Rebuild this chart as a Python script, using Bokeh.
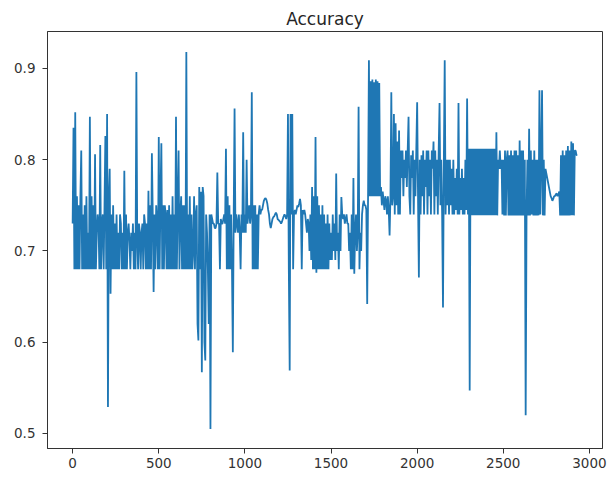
from bokeh.plotting import figure
from bokeh.models import Range1d, FixedTicker
from bokeh.embed import file_html
from bokeh.resources import INLINE

# iterations between stored samples
step = 5
accuracy = [
    # 0 - 95
    0.73, 0.835, 0.68, 0.852, 0.68, 0.76, 0.68, 0.75, 0.68, 0.76,
    0.81, 0.68, 0.74, 0.68, 0.75, 0.68, 0.76, 0.68, 0.72, 0.68,
    # 100 - 195
    0.847, 0.68, 0.76, 0.68, 0.75, 0.68, 0.806, 0.68, 0.72, 0.74,
    0.73, 0.68, 0.816, 0.68, 0.73, 0.74, 0.68, 0.75, 0.826, 0.68,
    # 200 - 295
    0.85, 0.529, 0.76, 0.79, 0.653, 0.74, 0.68, 0.75, 0.68, 0.73,
    0.68, 0.74, 0.68, 0.72, 0.68, 0.74, 0.73, 0.68, 0.72, 0.68,
    # 300 - 395
    0.788, 0.68, 0.74, 0.68, 0.72, 0.73, 0.71, 0.68, 0.72, 0.70,
    0.73, 0.68, 0.72, 0.68, 0.896, 0.71, 0.68, 0.73, 0.72, 0.68,
    # 400 - 495
    0.72, 0.73, 0.68, 0.74, 0.73, 0.68, 0.73, 0.68, 0.766, 0.68,
    0.75, 0.68, 0.807, 0.74, 0.655, 0.74, 0.68, 0.75, 0.73, 0.68,
    # 500 - 595
    0.825, 0.68, 0.76, 0.818, 0.68, 0.75, 0.68, 0.75, 0.74, 0.68,
    0.745, 0.68, 0.75, 0.68, 0.74, 0.68, 0.76, 0.68, 0.74, 0.68,
    # 600 - 695
    0.847, 0.68, 0.75, 0.81, 0.68, 0.74, 0.76, 0.68, 0.75, 0.68,
    0.75, 0.68, 0.918, 0.68, 0.74, 0.68, 0.76, 0.68, 0.74, 0.68,
    # 700 - 795
    0.70, 0.76, 0.68, 0.74, 0.75, 0.62, 0.602, 0.77, 0.68, 0.765,
    0.567, 0.77, 0.76, 0.60, 0.58, 0.74, 0.72, 0.68, 0.62, 0.74,
    # 800 - 895
    0.505, 0.74, 0.735, 0.73, 0.73, 0.725, 0.725, 0.73, 0.786, 0.73,
    0.73, 0.68, 0.735, 0.73, 0.73, 0.735, 0.74, 0.73, 0.812, 0.68,
    # 900 - 995
    0.76, 0.68, 0.75, 0.68, 0.74, 0.68, 0.589, 0.74, 0.856, 0.72,
    0.74, 0.73, 0.72, 0.74, 0.72, 0.68, 0.74, 0.72, 0.83, 0.72,
    # 1000 - 1095
    0.74, 0.72, 0.80, 0.73, 0.74, 0.75, 0.73, 0.74, 0.874, 0.68,
    0.75, 0.68, 0.75, 0.68, 0.74, 0.68, 0.74, 0.75, 0.74, 0.745,
    # 1100 - 1195
    0.745, 0.75, 0.755, 0.757, 0.758, 0.756, 0.752, 0.745, 0.74, 0.73,
    0.725, 0.73, 0.735, 0.737, 0.738, 0.74, 0.742, 0.74, 0.735, 0.734,
    # 1200 - 1295
    0.733, 0.732, 0.73, 0.732, 0.735, 0.738, 0.74, 0.738, 0.735, 0.74,
    0.85, 0.68, 0.569, 0.85, 0.74, 0.85, 0.68, 0.74, 0.745, 0.74,
    # 1300 - 1395
    0.745, 0.75, 0.748, 0.752, 0.757, 0.75, 0.68, 0.745, 0.74, 0.745,
    0.74, 0.73, 0.72, 0.735, 0.73, 0.70, 0.74, 0.69, 0.77, 0.68,
    # 1400 - 1495
    0.76, 0.68, 0.825, 0.676, 0.76, 0.68, 0.75, 0.68, 0.74, 0.68,
    0.75, 0.68, 0.74, 0.68, 0.73, 0.68, 0.74, 0.68, 0.73, 0.69,
    # 1500 - 1595
    0.72, 0.69, 0.74, 0.70, 0.73, 0.69, 0.785, 0.70, 0.72, 0.68,
    0.74, 0.70, 0.759, 0.74, 0.735, 0.74, 0.73, 0.735, 0.74, 0.73,
    # 1600 - 1695
    0.73, 0.70, 0.72, 0.68, 0.74, 0.68, 0.78, 0.675, 0.72, 0.74,
    0.70, 0.72, 0.858, 0.68, 0.72, 0.70, 0.74, 0.75, 0.755, 0.75,
    # 1700 - 1795
    0.75, 0.745, 0.642, 0.76, 0.909, 0.76, 0.886, 0.76, 0.888, 0.76,
    0.885, 0.76, 0.888, 0.76, 0.886, 0.76, 0.884, 0.76, 0.77, 0.75,
    # 1800 - 1895
    0.765, 0.755, 0.745, 0.76, 0.755, 0.74, 0.76, 0.745, 0.717, 0.76,
    0.874, 0.75, 0.76, 0.85, 0.74, 0.84, 0.75, 0.82, 0.74, 0.832,
    # 1900 - 1995
    0.74, 0.81, 0.78, 0.81, 0.76, 0.80, 0.78, 0.81, 0.77, 0.81,
    0.847, 0.76, 0.74, 0.805, 0.78, 0.81, 0.74, 0.80, 0.76, 0.81,
    # 2000 - 2095
    0.863, 0.76, 0.671, 0.80, 0.74, 0.805, 0.76, 0.81, 0.74, 0.80,
    0.77, 0.81, 0.74, 0.81, 0.76, 0.80, 0.74, 0.81, 0.79, 0.82,
    # 2100 - 2195
    0.74, 0.81, 0.76, 0.80, 0.74, 0.81, 0.862, 0.75, 0.80, 0.74,
    0.638, 0.80, 0.909, 0.74, 0.80, 0.75, 0.80, 0.74, 0.80, 0.75,
    # 2200 - 2295
    0.79, 0.74, 0.80, 0.74, 0.78, 0.745, 0.79, 0.74, 0.862, 0.74,
    0.78, 0.745, 0.79, 0.74, 0.78, 0.74, 0.80, 0.745, 0.867, 0.74,
    # 2300 - 2395
    0.812, 0.547, 0.812, 0.739, 0.812, 0.739, 0.812, 0.739, 0.812, 0.739,
    0.812, 0.739, 0.812, 0.739, 0.812, 0.739, 0.812, 0.739, 0.812, 0.739,
    # 2400 - 2495
    0.812, 0.739, 0.812, 0.739, 0.812, 0.739, 0.812, 0.739, 0.812, 0.739,
    0.812, 0.739, 0.83, 0.739, 0.80, 0.79, 0.81, 0.79, 0.80, 0.74,
    # 2500 - 2595
    0.80, 0.739, 0.81, 0.739, 0.80, 0.81, 0.739, 0.805, 0.739, 0.81,
    0.739, 0.805, 0.739, 0.81, 0.739, 0.81, 0.739, 0.805, 0.739, 0.821,
    # 2600 - 2695
    0.739, 0.81, 0.739, 0.81, 0.739, 0.80, 0.52, 0.739, 0.80, 0.739,
    0.834, 0.739, 0.81, 0.74, 0.80, 0.739, 0.81, 0.739, 0.80, 0.739,
    # 2700 - 2795
    0.80, 0.739, 0.876, 0.74, 0.80, 0.876, 0.739, 0.80, 0.739, 0.79,
    0.785, 0.78, 0.775, 0.77, 0.765, 0.76, 0.758, 0.755, 0.757, 0.76,
    # 2800 - 2895
    0.76, 0.762, 0.763, 0.76, 0.762, 0.765, 0.739, 0.805, 0.739, 0.81,
    0.739, 0.805, 0.739, 0.81, 0.739, 0.815, 0.739, 0.81, 0.739, 0.82,
    # 2900 - 2930
    0.739, 0.818, 0.739, 0.81, 0.81, 0.805, 0.805,
]
iterations = [i * step for i in range(len(accuracy))]

x_ticks = [0, 500, 1000, 1500, 2000, 2500, 3000]
y_ticks = [0.5, 0.6, 0.7, 0.8, 0.9]

p = figure(width=608, height=476, output_backend="svg", toolbar_location=None,
           title="Accuracy",
           x_range=Range1d(-146, 3076), y_range=Range1d(0.4835, 0.9405),
           min_border_left=47, min_border_right=6, min_border_bottom=28, min_border_top=31)
p.title.align = "center"
p.title.text_font = "DejaVu Sans"
p.title.text_font_size = "17px"
p.title.text_font_style = "normal"
p.title.text_color = "#262626"
p.title.standoff = 6

p.line(iterations, accuracy, line_color="#1f77b4", line_width=1.8, line_join="bevel")

p.xgrid.visible = False
p.ygrid.visible = False
p.outline_line_color = "#333333"
p.outline_line_width = 1
p.outline_line_alpha = 1

for ax in (p.xaxis, p.yaxis):
    ax.axis_line_color = "#333333"
    ax.major_tick_line_color = "#333333"
    ax.major_tick_out = 5
    ax.major_tick_in = 0
    ax.minor_tick_line_color = None
    ax.major_label_text_font = "DejaVu Sans"
    ax.major_label_text_font_size = "13.5px"
    ax.major_label_text_color = "#333333"

p.xaxis.major_label_standoff = 4
p.yaxis.major_label_standoff = 7

p.xaxis.ticker = FixedTicker(ticks=x_ticks)
p.yaxis.ticker = FixedTicker(ticks=y_ticks)

open("out.html", "w").write(file_html(p, INLINE))
